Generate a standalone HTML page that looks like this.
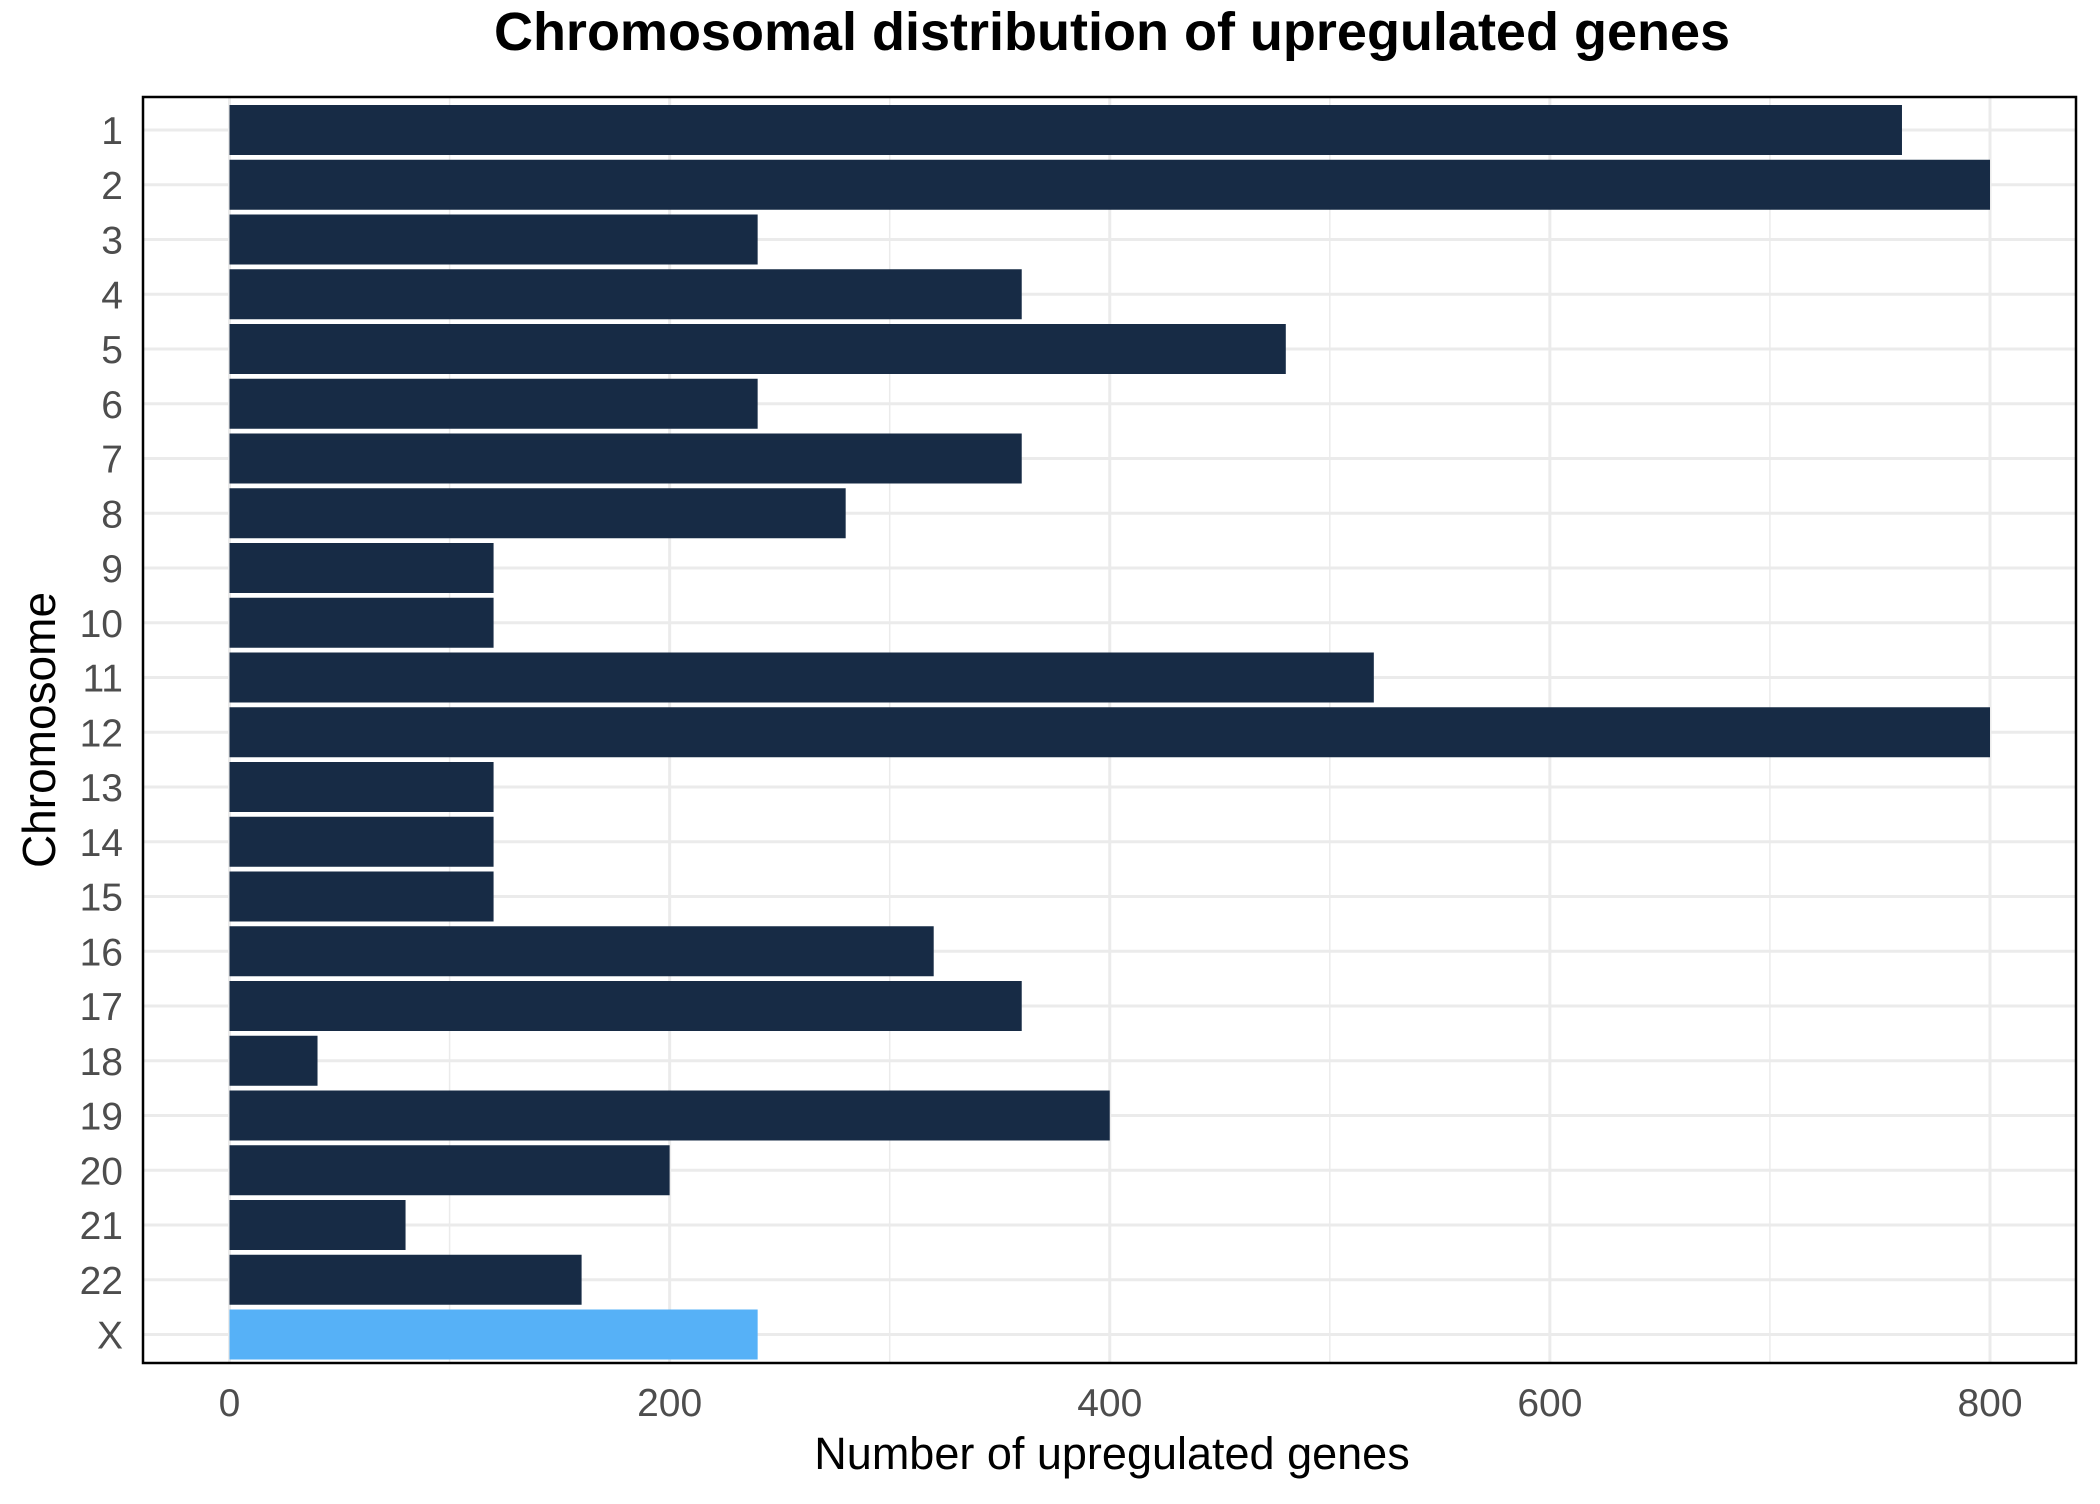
<!DOCTYPE html>
<html><head><meta charset="utf-8"><style>
body{margin:0;background:#fff;}
svg text{font-family:"Liberation Sans",sans-serif;}
</style></head><body>
<svg id="chart" width="2100" height="1499" xmlns="http://www.w3.org/2000/svg">
<text x="1112" y="50" text-anchor="middle" font-size="54" font-weight="bold" fill="#000">Chromosomal distribution of upregulated genes</text>
<g id="grid"></g>
<g id="bars"></g>
<rect x="143" y="97" width="1933" height="1266" fill="none" stroke="#000" stroke-width="2.5"/>
<g id="yticks"></g>
<g id="xticks"></g>
<text x="1112" y="1469" text-anchor="middle" font-size="45" fill="#000">Number of upregulated genes</text>
<text transform="translate(55,730) rotate(-90)" text-anchor="middle" font-size="46" fill="#000">Chromosome</text>
</svg>
<script>
const categories=["1","2","3","4","5","6","7","8","9","10","11","12","13","14","15","16","17","18","19","20","21","22","X"];
const values=[760,800,240,360,480,240,360,280,120,120,520,800,120,120,120,320,360,40,400,200,80,160,240];
const xTicks=[0,200,400,600,800];
const xMinor=[100,300,500,700];
const NS="http://www.w3.org/2000/svg";
const x=v=>229.5+v*(1990-229.5)/800;
const y=i=>130+i*54.75;
function mk(tag,attrs,parent){const e=document.createElementNS(NS,tag);for(const k in attrs)e.setAttribute(k,attrs[k]);document.getElementById(parent).appendChild(e);return e;}
xMinor.forEach(v=>{const l=mk('line',{x1:x(v),x2:x(v),y1:97,y2:1363,stroke:'#ebebeb','stroke-width':1.5},'grid');

});
xTicks.forEach(v=>{const l=mk('line',{x1:x(v),x2:x(v),y1:97,y2:1363,stroke:'#ebebeb','stroke-width':3},'grid');


const t=mk('text',{x:x(v),y:1416,'text-anchor':'middle','font-size':39,fill:'#4d4d4d'},'xticks');t.textContent=v;

});
categories.forEach((c,i)=>{const l=mk('line',{x1:143,x2:2076,y1:y(i),y2:y(i),stroke:'#ebebeb','stroke-width':3},'grid');


const r=mk('rect',{x:x(0),y:y(i)-25,width:x(values[i])-x(0),height:50,fill:c==='X'?'#56b1f7':'#172b45'},'bars');


const t=mk('text',{x:123,y:y(i)+14,'text-anchor':'end','font-size':39,fill:'#4d4d4d'},'yticks');t.textContent=c;

});
</script>
</body></html>
